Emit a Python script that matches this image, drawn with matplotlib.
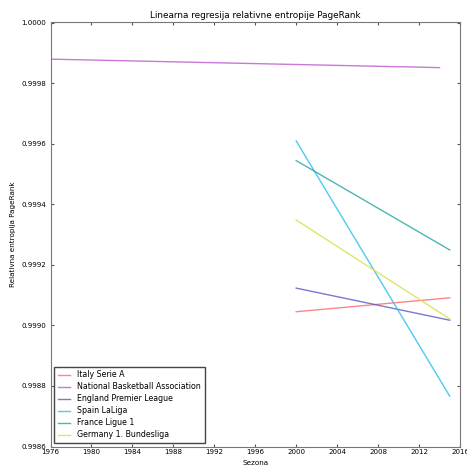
import matplotlib
matplotlib.use("Agg")
import matplotlib.pyplot as plt

# fitted regression lines: (start season, end season), (start value, end value)
leagues = ["Italy Serie A", "National Basketball Association", "England Premier League",
           "Spain LaLiga", "France Ligue 1", "Germany 1. Bundesliga"]
seasons = [[2000, 2015], [1976, 2014], [2000, 2015], [2000, 2015], [2000, 2015], [2000, 2015]]
values = [
    [0.999045, 0.999091],
    [0.999879, 0.999851],
    [0.999123, 0.999017],
    [0.999609, 0.998766],
    [0.999544, 0.999249],
    [0.999348, 0.999021],
]
colors = ["#ff7070", "#c060d0", "#6060c8", "#30c0f0", "#30a8a0", "#d8e050"]

xticks = list(range(1976, 2017, 4))
yticks = [0.9986, 0.9988, 0.9990, 0.9992, 0.9994, 0.9996, 0.9998, 1.0000]

fig = plt.figure(figsize=(4.67, 4.65), dpi=100)
ax = fig.add_axes([50.5 / 467, 18.5 / 465, 409.5 / 467, 424 / 465])

for name, xs, ys, c in zip(leagues, seasons, values, colors):
    ax.plot(xs, ys, color=c, linewidth=1.0, alpha=0.85, label=name)

ax.set_xlim(1976, 2016)
ax.set_ylim(0.9986, 1.0000)
ax.set_xticks(xticks)
ax.set_yticks(yticks)
ax.set_yticklabels([f"{v:.4f}" for v in yticks])
ax.tick_params(direction="in", top=True, right=True, labelsize=5.1, length=2.5,
               color="#555555")
ax.tick_params(axis="x", pad=1.5)
ax.tick_params(axis="y", pad=3)
for s in ax.spines.values():
    s.set_color("#777777")

ax.set_title("Linearna regresija relativne entropije PageRank", fontsize=6.4, pad=3)
ax.set_xlabel("Sezona", fontsize=5.2)
ax.set_ylabel("Relativna entropija PageRank", fontsize=5.2)
ax.xaxis.set_label_coords(0.5, -0.031)
ax.yaxis.set_label_coords(-0.084, 0.5)

leg = ax.legend(loc="lower left", fontsize=5.7, fancybox=False, framealpha=1,
                borderaxespad=0.45, handlelength=1.5, handletextpad=1.0,
                labelspacing=0.38, borderpad=0.45)
leg.get_frame().set_edgecolor("#444444")
leg.get_frame().set_linewidth(1.0)

fig.savefig("out.png", dpi=100)
